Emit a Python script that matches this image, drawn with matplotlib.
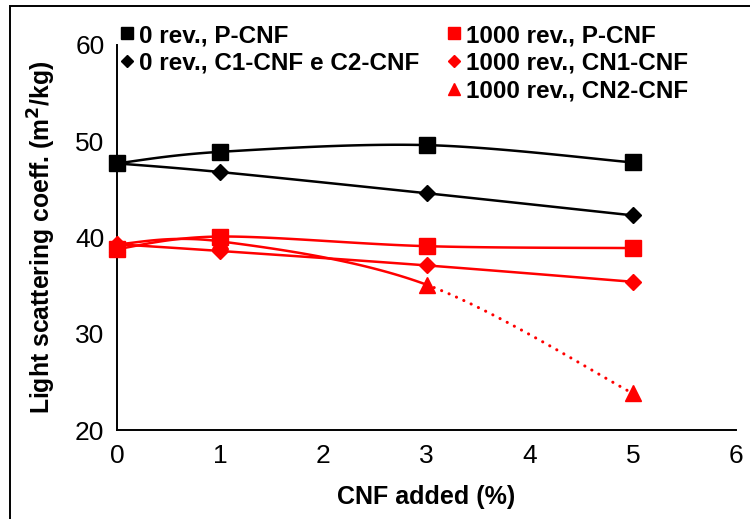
import numpy as np
import matplotlib
matplotlib.use("Agg")
import matplotlib.pyplot as plt
from matplotlib.lines import Line2D
from matplotlib.patches import Rectangle

# ---- data ----
x_vals = [0, 1, 3, 5]
p_cnf_0rev = [47.7, 48.9, 49.6, 47.8]
c12_cnf_0rev = [47.7, 46.8, 44.6, 42.3]
p_cnf_1000rev = [38.8, 40.1, 39.1, 38.9]
cn1_cnf_1000rev = [39.3, 38.6, 37.1, 35.4]
cn2_cnf_1000rev = [39.3, 39.6, 35.1, 23.8]
labels = ["0 rev., P-CNF", "0 rev., C1-CNF e C2-CNF",
          "1000 rev., P-CNF", "1000 rev., CN1-CNF", "1000 rev., CN2-CNF"]
x_ticks = [0, 1, 2, 3, 4, 5, 6]
y_ticks = [20, 30, 40, 50, 60]

plt.rcParams['font.family'] = ['Liberation Sans', 'DejaVu Sans']

def smooth(xs, ys, n=40):
    """Excel-like smoothed line (Catmull-Rom Bezier)."""
    P = np.column_stack([xs, ys]).astype(float)
    P = np.vstack([P[0], P, P[-1]])
    segs = []
    t = np.linspace(0, 1, n)[:, None]
    for i in range(1, len(P) - 2):
        p0, p3 = P[i], P[i + 1]
        p1 = p0 + (P[i + 1] - P[i - 1]) / 6
        p2 = p3 - (P[i + 2] - P[i]) / 6
        seg = ((1 - t) ** 3) * p0 + 3 * ((1 - t) ** 2) * t * p1 + 3 * (1 - t) * t ** 2 * p2 + t ** 3 * p3
        segs.append(seg)
    return segs

fig = plt.figure(figsize=(7.5, 5.19), dpi=100)
ax = fig.add_axes([117/750, 1-430/519, (736-117)/750, (430-45)/519])

RED = '#FF0000'
LW = 1.8
series = [
    (p_cnf_0rev, 'black', 's', 11),
    (c12_cnf_0rev, 'black', 'D', 8.5),
    (p_cnf_1000rev, RED, 's', 11),
    (cn1_cnf_1000rev, RED, 'D', 8.5),
    (cn2_cnf_1000rev, RED, '^', 12),
]
for idx, (ys, col, mk, ms) in enumerate(series):
    segs = smooth(x_vals, ys)
    for j, seg in enumerate(segs):
        if idx == 4 and j == len(segs) - 1:
            ax.plot(seg[:, 0], seg[:, 1], color=col, lw=2.2, linestyle=(0, (0.05, 2.6)),
                    dash_capstyle='round', zorder=2)
        else:
            ax.plot(seg[:, 0], seg[:, 1], color=col, lw=LW, zorder=2)
    ax.plot(x_vals, ys, linestyle='none', marker=mk, ms=ms, color=col,
            markeredgecolor=col, zorder=3, clip_on=False)

ax.set_xlim(0, 6)
ax.set_ylim(20, 60)
ax.set_xticks(x_ticks)
ax.set_yticks(y_ticks)
ax.tick_params(length=0, labelsize=19, pad=10)
ax.tick_params(axis='y', pad=9)
for s in ['top', 'right']:
    ax.spines[s].set_visible(False)
for s in ['left', 'bottom']:
    ax.spines[s].set_linewidth(1.4)

ax.set_xlabel("CNF added (%)", fontsize=18, fontweight='bold', labelpad=12)
ax.set_ylabel("Light scattering coeff. (m$^\\mathbf{2}$/kg)", fontsize=17.8, fontweight='bold', labelpad=12)

def h(col, mk, ms):
    return Line2D([], [], linestyle='none', marker=mk, color=col, ms=ms)

hs = [h(c, m, s * 0.75) for (_, c, m, s) in series]
common = dict(loc='upper left', frameon=False, prop={'weight': 'bold', 'size': 17.5},
              handlelength=0.6, handletextpad=0.2, labelspacing=0.2, borderaxespad=0, borderpad=0)
leg1 = fig.legend(hs[:2], labels[:2], bbox_to_anchor=(120/750, 1-24/519), **common)
leg2 = fig.legend(hs[2:], labels[2:], bbox_to_anchor=(447/750, 1-24/519), **common)

fig.patches.append(Rectangle((10/750, -0.1), 1.2, 1 - 6/519 + 0.1, transform=fig.transFigure,
                             fill=False, edgecolor='black', lw=1.4))

fig.savefig("out.png", dpi=100)
